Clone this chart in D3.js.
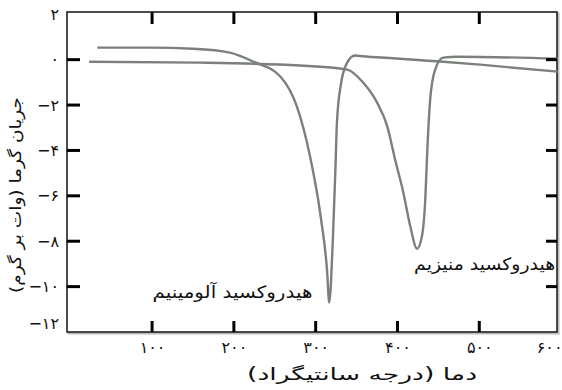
<!DOCTYPE html>
<html>
<head>
<meta charset="utf-8">
<script src="https://cdn.jsdelivr.net/npm/d3@7"></script>
</head>
<body style="margin:0;background:#fff">
<div id="container"></div>
<script>
// dadehaye nemoodar
const alTemp = [33, 98, 150, 195, 224, 257, 277, 293, 306, 314, 316.5, 321, 324, 326, 331, 338.5, 348, 358, 456, 501, 596];
const alFlow = [0.53, 0.53, 0.48, 0.31, -0.09, -0.75, -2.06, -4.25, -6.89, -9.34, -10.7, -7.9, -4.96, -2.76, -1.05, -0.13, 0.18, 0.15, -0.09, -0.22, -0.53];
const mgTemp = [23, 159, 281, 338.5, 358, 375, 387.5, 397, 407, 415.5, 424, 430, 434, 436.5, 440, 446, 456, 473, 596];
const mgFlow = [-0.09, -0.13, -0.26, -0.44, -1.01, -1.89, -2.94, -4.39, -5.83, -7.32, -8.33, -7.76, -6.14, -3.95, -1.75, -0.44, 0.09, 0.13, 0.04];
const xTicks = [100, 200, 300, 400, 500, 600];
const yTicks = [2, 0, -2, -4, -6, -8, -10, -12];
const seriesLabels = ['هیدروکسید آلومینیم', 'هیدروکسید منیزیم'];

const width = 562;
const height = 390;
const plotL = 67, plotR = 557, plotT = 12, plotB = 332;
const font = '"DejaVu Sans", "Noto Sans", sans-serif';

const faDigits = '۰۱۲۳۴۵۶۷۸۹';
const toFa = n => String(Math.abs(n)).replace(/\d/g, c => faDigits[c]);
const fmtY = n => (n < 0 ? '−' : '') + toFa(n);

const svg = d3.select('#container').append('svg')
    .attr('width', width)
    .attr('height', height);

const x = d3.scaleLinear().domain([-4, 595]).range([plotL, plotR]);
const y = d3.scaleLinear().domain([-12, 2.1]).range([plotB, plotT]);

// sayeh va ghab
svg.append('rect')
    .attr('x', plotL + 1.5).attr('y', plotT + 1.5)
    .attr('width', plotR - plotL).attr('height', plotB - plotT)
    .attr('fill', 'none')
    .attr('stroke', '#bbb')
    .attr('stroke-width', 2);
svg.append('rect')
    .attr('x', plotL).attr('y', plotT)
    .attr('width', plotR - plotL).attr('height', plotB - plotT)
    .attr('fill', '#fff')
    .attr('stroke', '#111')
    .attr('stroke-width', 1.5);

// barchasb-haye mehvar
const xAxis = svg.append('g')
    .attr('transform', `translate(0,${plotB})`)
    .call(d3.axisBottom(x).tickValues(xTicks).tickSize(0).tickPadding(10).tickFormat(toFa));
xAxis.select('.domain').remove();
xAxis.selectAll('.tick line').remove();
xAxis.selectAll('text')
    .attr('font-family', font)
    .attr('font-size', 16)
    .attr('fill', '#111')
    .attr('letter-spacing', 3)
    .attr('dx', d => d === 600 ? -12 : 0);

const yAxis = svg.append('g')
    .attr('transform', `translate(${plotL},0)`)
    .call(d3.axisLeft(y).tickValues(yTicks).tickSize(0).tickPadding(8).tickFormat(fmtY));
yAxis.select('.domain').remove();
yAxis.selectAll('.tick line').remove();
yAxis.selectAll('text')
    .attr('font-family', font)
    .attr('font-size', 16)
    .attr('fill', '#111')
    .attr('dy', d => d === -12 ? '-0.2em' : '0.32em');

// montahani-ha
const curveLine = d3.line()
    .x(d => x(d[0]))
    .y(d => y(d[1]))
    .curve(d3.curveMonotoneX);

const series = [d3.zip(alTemp, alFlow), d3.zip(mgTemp, mgFlow)];
svg.selectAll('.curve')
    .data(series)
    .enter()
    .append('path')
    .attr('class', 'curve')
    .attr('d', curveLine)
    .attr('fill', 'none')
    .attr('stroke', '#7b807b')
    .attr('stroke-width', 2.4);

// nam-e seri-ha
svg.append('text')
    .attr('x', x(296))
    .attr('y', y(-10.5))
    .attr('text-anchor', 'end')
    .attr('font-family', font)
    .attr('font-size', 17)
    .attr('fill', '#111')
    .attr('textLength', 160)
    .attr('lengthAdjust', 'spacingAndGlyphs')
    .text(seriesLabels[0]);
svg.append('text')
    .attr('x', x(424) - 3)
    .attr('y', y(-9.25))
    .attr('text-anchor', 'start')
    .attr('font-family', font)
    .attr('font-size', 17)
    .attr('fill', '#111')
    .attr('textLength', 141)
    .attr('lengthAdjust', 'spacingAndGlyphs')
    .text(seriesLabels[1]);

// onvan-e mehvar-ha
svg.append('text')
    .attr('x', 362)
    .attr('y', 380)
    .attr('text-anchor', 'middle')
    .attr('font-family', font)
    .attr('font-size', 17)
    .attr('fill', '#111')
    .attr('textLength', 230)
    .attr('lengthAdjust', 'spacingAndGlyphs')
    .text('دما (درجه سانتیگراد)');
svg.append('text')
    .attr('transform', 'translate(21,195) rotate(-90)')
    .attr('text-anchor', 'middle')
    .attr('font-family', font)
    .attr('font-size', 16)
    .attr('fill', '#111')
    .attr('textLength', 196)
    .attr('lengthAdjust', 'spacingAndGlyphs')
    .text('جریان گرما (وات بر گرم)');

// tick-haye dakheli, akhar-e hame
const innerX = xTicks.filter(d => d < 600);
const innerY = yTicks.filter(d => d <= 0 && d > -12);
svg.selectAll('.tt').data(innerX).enter().append('line')
    .attr('x1', d => x(d)).attr('x2', d => x(d))
    .attr('y1', plotT).attr('y2', plotT + 12)
    .attr('stroke', '#000').attr('stroke-width', 3);
svg.selectAll('.tb').data(innerX).enter().append('line')
    .attr('x1', d => x(d)).attr('x2', d => x(d))
    .attr('y1', plotB).attr('y2', plotB - 11)
    .attr('stroke', '#000').attr('stroke-width', 3);
svg.selectAll('.tl').data(innerY).enter().append('line')
    .attr('x1', plotL).attr('x2', plotL + 13)
    .attr('y1', d => y(d)).attr('y2', d => y(d))
    .attr('stroke', '#000').attr('stroke-width', 3);
svg.selectAll('.tr').data(innerY).enter().append('line')
    .attr('x1', plotR).attr('x2', plotR - 11)
    .attr('y1', d => y(d)).attr('y2', d => y(d))
    .attr('stroke', '#000').attr('stroke-width', 3);
</script>
</body>
</html>
